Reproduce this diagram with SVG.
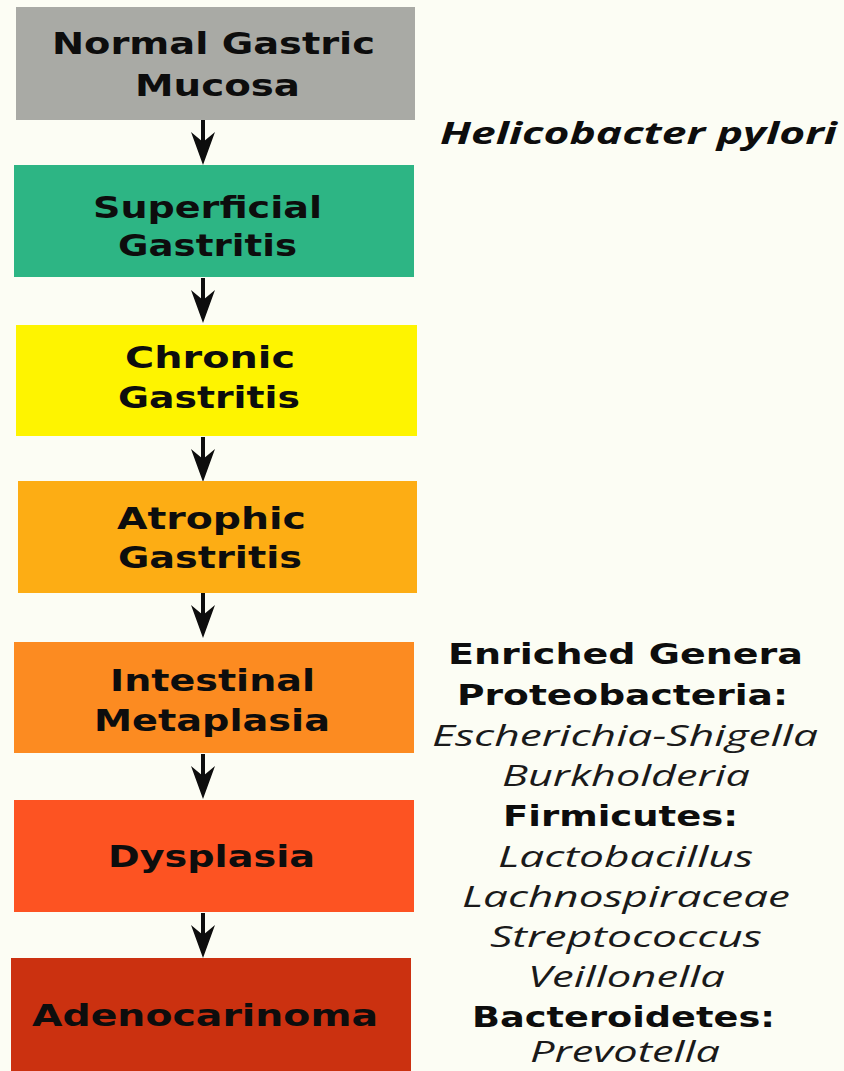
<svg xmlns="http://www.w3.org/2000/svg" width="844" height="1071" viewBox="0 0 844 1071">
<defs>
<style>
.bx{font-family:"DejaVu Sans","Liberation Sans",sans-serif;font-weight:bold;font-size:31px;fill:#0d0d0d}
.hb{font-family:"DejaVu Sans","Liberation Sans",sans-serif;font-weight:bold;font-size:29px;fill:#0d0d0d}
.it{font-family:"Open Sans","DejaVu Sans",sans-serif;font-style:italic;font-size:30px;fill:#1a1a1a}
.hp{font-family:"Open Sans","DejaVu Sans",sans-serif;font-style:italic;font-weight:bold;font-size:30px;fill:#0d0d0d}
.arr{fill:#0d0d0d}
</style>
<g id="arrowShape"><rect x="-2" y="0" width="4" height="24" class="arr"/><path d="M-12,12 L0,22 L12,12 L0,45 Z" class="arr"/></g>
</defs>
<rect x="0" y="0" width="844" height="1071" fill="#fcfdf4"/>
<g id="connectors">
<use href="#arrowShape" x="203" y="120"/>
<use href="#arrowShape" x="203" y="278"/>
<use href="#arrowShape" x="203" y="437"/>
<use href="#arrowShape" x="203" y="593"/>
<use href="#arrowShape" x="203" y="754"/>
<use href="#arrowShape" x="203" y="913"/>
</g>
<g id="n1"><rect x="16" y="7" width="399" height="113" fill="#a9aaa5"/>
<text class="bx" x="52" y="54" textLength="323" lengthAdjust="spacingAndGlyphs">Normal Gastric</text>
<text class="bx" x="135" y="96" textLength="165" lengthAdjust="spacingAndGlyphs">Mucosa</text></g>
<g id="n2"><rect x="14" y="165" width="400" height="112" fill="#2db584"/>
<text class="bx" x="93" y="218" textLength="229" lengthAdjust="spacingAndGlyphs">Superficial</text>
<text class="bx" x="118" y="256" textLength="179" lengthAdjust="spacingAndGlyphs">Gastritis</text></g>
<g id="n3"><rect x="16" y="325" width="401" height="111" fill="#fef400"/>
<text class="bx" x="125" y="368" textLength="170" lengthAdjust="spacingAndGlyphs">Chronic</text>
<text class="bx" x="118" y="408" textLength="182" lengthAdjust="spacingAndGlyphs">Gastritis</text></g>
<g id="n4"><rect x="18" y="481" width="399" height="112" fill="#fdad14"/>
<text class="bx" x="117" y="529" textLength="189" lengthAdjust="spacingAndGlyphs">Atrophic</text>
<text class="bx" x="118" y="568" textLength="184" lengthAdjust="spacingAndGlyphs">Gastritis</text></g>
<g id="n5"><rect x="14" y="642" width="400" height="111" fill="#fc8b21"/>
<text class="bx" x="110" y="691" textLength="205" lengthAdjust="spacingAndGlyphs">Intestinal</text>
<text class="bx" x="94" y="731" textLength="236" lengthAdjust="spacingAndGlyphs">Metaplasia</text></g>
<g id="n6"><rect x="14" y="800" width="400" height="112" fill="#fd5322"/>
<text class="bx" x="108" y="867" textLength="207" lengthAdjust="spacingAndGlyphs">Dysplasia</text></g>
<g id="n7"><rect x="11" y="958" width="400" height="113" fill="#cb3110"/>
<text class="bx" x="32" y="1026" textLength="346" lengthAdjust="spacingAndGlyphs">Adenocarinoma</text></g>
<g id="hpylori"><text class="hp" x="440" y="144" textLength="397" lengthAdjust="spacingAndGlyphs">Helicobacter pylori</text></g>
<g id="genera">
<text class="hb" x="448" y="664" textLength="355" lengthAdjust="spacingAndGlyphs">Enriched Genera</text>
<text class="hb" x="457" y="705" textLength="331" lengthAdjust="spacingAndGlyphs">Proteobacteria:</text>
<text class="it" x="432" y="746" textLength="386" lengthAdjust="spacingAndGlyphs">Escherichia-Shigella</text>
<text class="it" x="502" y="786" textLength="248" lengthAdjust="spacingAndGlyphs">Burkholderia</text>
<text class="hb" x="503" y="826" textLength="235" lengthAdjust="spacingAndGlyphs">Firmicutes:</text>
<text class="it" x="498" y="867" textLength="255" lengthAdjust="spacingAndGlyphs">Lactobacillus</text>
<text class="it" x="462" y="907" textLength="328" lengthAdjust="spacingAndGlyphs">Lachnospiraceae</text>
<text class="it" x="490" y="947" textLength="272" lengthAdjust="spacingAndGlyphs">Streptococcus</text>
<text class="it" x="528" y="987" textLength="197" lengthAdjust="spacingAndGlyphs">Veillonella</text>
<text class="hb" x="472" y="1027" textLength="303" lengthAdjust="spacingAndGlyphs">Bacteroidetes:</text>
<text class="it" x="530" y="1062" textLength="190" lengthAdjust="spacingAndGlyphs">Prevotella</text>
</g>
</svg>
